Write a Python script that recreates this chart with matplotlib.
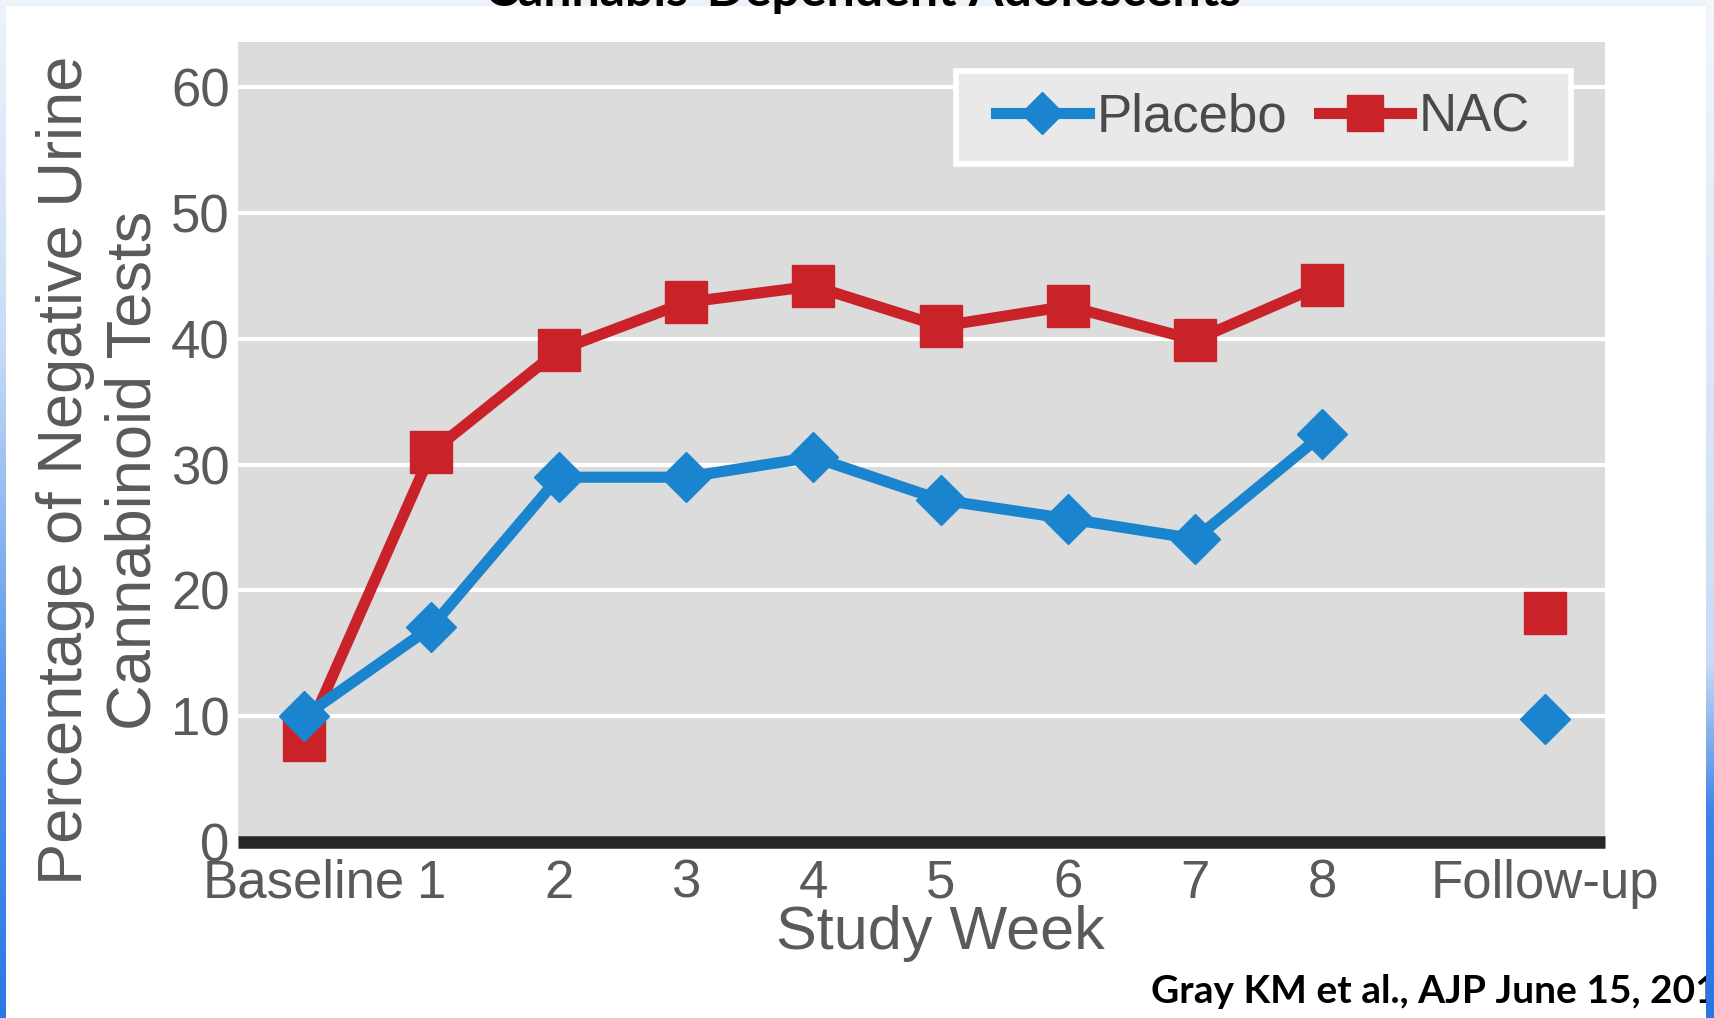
import matplotlib
matplotlib.use('Agg')
import matplotlib.pyplot as plt
import numpy as np
from matplotlib.colors import LinearSegmentedColormap

# ---- data ----
week_labels = ['Baseline', '1', '2', '3', '4', '5', '6', '7', '8']
week_pos = [0, 1, 2, 3, 4, 5, 6, 7, 8]
followup_label = 'Follow-up'
followup_pos = 9.75
placebo = [10.0, 17.1, 29.0, 29.0, 30.6, 27.2, 25.7, 24.1, 32.4]
nac = [8.1, 31.0, 39.1, 42.9, 44.2, 41.0, 42.6, 39.9, 44.3]
placebo_followup = [9.8]
nac_followup = [18.2]
yticks = [0, 10, 20, 30, 40, 50, 60]

BLUE = '#1b84cf'
RED = '#c92229'
TXT = '#5a5a5a'
FONT = ['Liberation Sans', 'DejaVu Sans']
W, H = 1714, 1018

fig = plt.figure(figsize=(W / 100, H / 100), dpi=100)
fig.patch.set_facecolor('white')

ax = fig.add_axes([238 / W, 1 - 842 / H, 1367 / W, 800 / H])
ax.set_facecolor('#dcdcdc')
ax.set_xlim(-0.52, 10.22)
ax.set_ylim(0, 63.6)

ax.set_axisbelow(True)
ax.yaxis.grid(True, color='white', lw=3)
ax.set_yticks(yticks)
ax.set_yticklabels([str(v) for v in yticks], family=FONT, fontsize=38, color=TXT)
ax.set_xticks(week_pos + [followup_pos])
ax.set_xticklabels(week_labels + [followup_label], family=FONT, fontsize=38, color=TXT)
ax.tick_params(axis='y', length=0, pad=6)
ax.tick_params(axis='x', length=0, pad=12)
for s in ['top', 'right', 'left']:
    ax.spines[s].set_visible(False)
ax.spines['bottom'].set_color('#262626')
ax.spines['bottom'].set_linewidth(9)
ax.spines['bottom'].set_capstyle('butt')
ax.spines['bottom'].set_zorder(5)

ax.plot(week_pos, nac, color=RED, lw=8, marker='s', ms=30, mec=RED, label='NAC', zorder=3)
ax.plot([followup_pos], nac_followup, ls='none', color=RED, marker='s', ms=30, mec=RED, zorder=3)
ax.plot(week_pos, placebo, color=BLUE, lw=8, marker='D', ms=25, mec=BLUE, label='Placebo', zorder=4)
ax.plot([followup_pos], placebo_followup, ls='none', color=BLUE, marker='D', ms=25, mec=BLUE, zorder=4)

# legend box (drawn separately for uneven padding)
ax.add_patch(plt.Rectangle((0.525, 0.848), 0.450, 0.116, transform=ax.transAxes,
                           facecolor='#e9e9e9', edgecolor='white', lw=4, zorder=6))
h, l = ax.get_legend_handles_labels()
leg = ax.legend(h[::-1], l[::-1], loc='center', bbox_to_anchor=(0.750, 0.906),
                ncol=2, prop={'family': FONT, 'size': 38}, frameon=False,
                borderaxespad=0, handlelength=1.75, handletextpad=0.15, columnspacing=0.6,
                borderpad=0.2, numpoints=1, markerscale=0.85)
leg.set_zorder(7)
for t in leg.get_texts():
    t.set_color('#4a4a4a')

fig.text(100 / W, 1 - 470 / H, 'Percentage of Negative Urine\nCannabinoid Tests', rotation=90,
         ha='center', va='center', multialignment='center', family=FONT, fontsize=45.5,
         color=TXT, linespacing=1.2)
fig.text(940 / W, 1 - 933 / H, 'Study Week', ha='center', va='center', family=FONT,
         fontsize=44, color=TXT)

# slide decorations
fig.patches.append(plt.Rectangle((0, 1 - 5 / H), 1, 5 / H, transform=fig.transFigure,
                                 color='#edf2f9', zorder=0))
fig.text(863 / W, 1 - 6 / H, 'Cannabis-Dependent Adolescents', ha='center', va='baseline',
         family=['Lato', 'DejaVu Sans'], fontweight='bold', fontsize=36, color='black')
fig.text(1151 / W, 1 - 1003 / H, 'Gray KM et al., AJP June 15, 2011', ha='left', va='baseline',
         family=['Lato', 'DejaVu Sans'], fontweight='bold', fontsize=28, color='black')

cmap_l = LinearSegmentedColormap.from_list('l', ['#2a78e6', '#5a98ec', '#c9dcf6', '#eef3fb'])
grad = np.linspace(0, 1, 256).reshape(-1, 1)
axl = fig.add_axes([0, 0, 6 / W, 1], zorder=10)
axl.imshow(grad, aspect='auto', cmap=cmap_l, origin='lower', extent=[0, 1, 0, 1])
axl.axis('off')
cmap_r = LinearSegmentedColormap.from_list('r', [(0, '#2a74e4'), (0.2, '#3d83e8'), (0.35, '#c9dcf6'), (1, '#f3f6fc')])
axr = fig.add_axes([1706 / W, 0, 8 / W, 1], zorder=10)
axr.imshow(grad, aspect='auto', cmap=cmap_r, origin='lower', extent=[0, 1, 0, 1])
axr.axis('off')

fig.savefig('out.png', dpi=100)
